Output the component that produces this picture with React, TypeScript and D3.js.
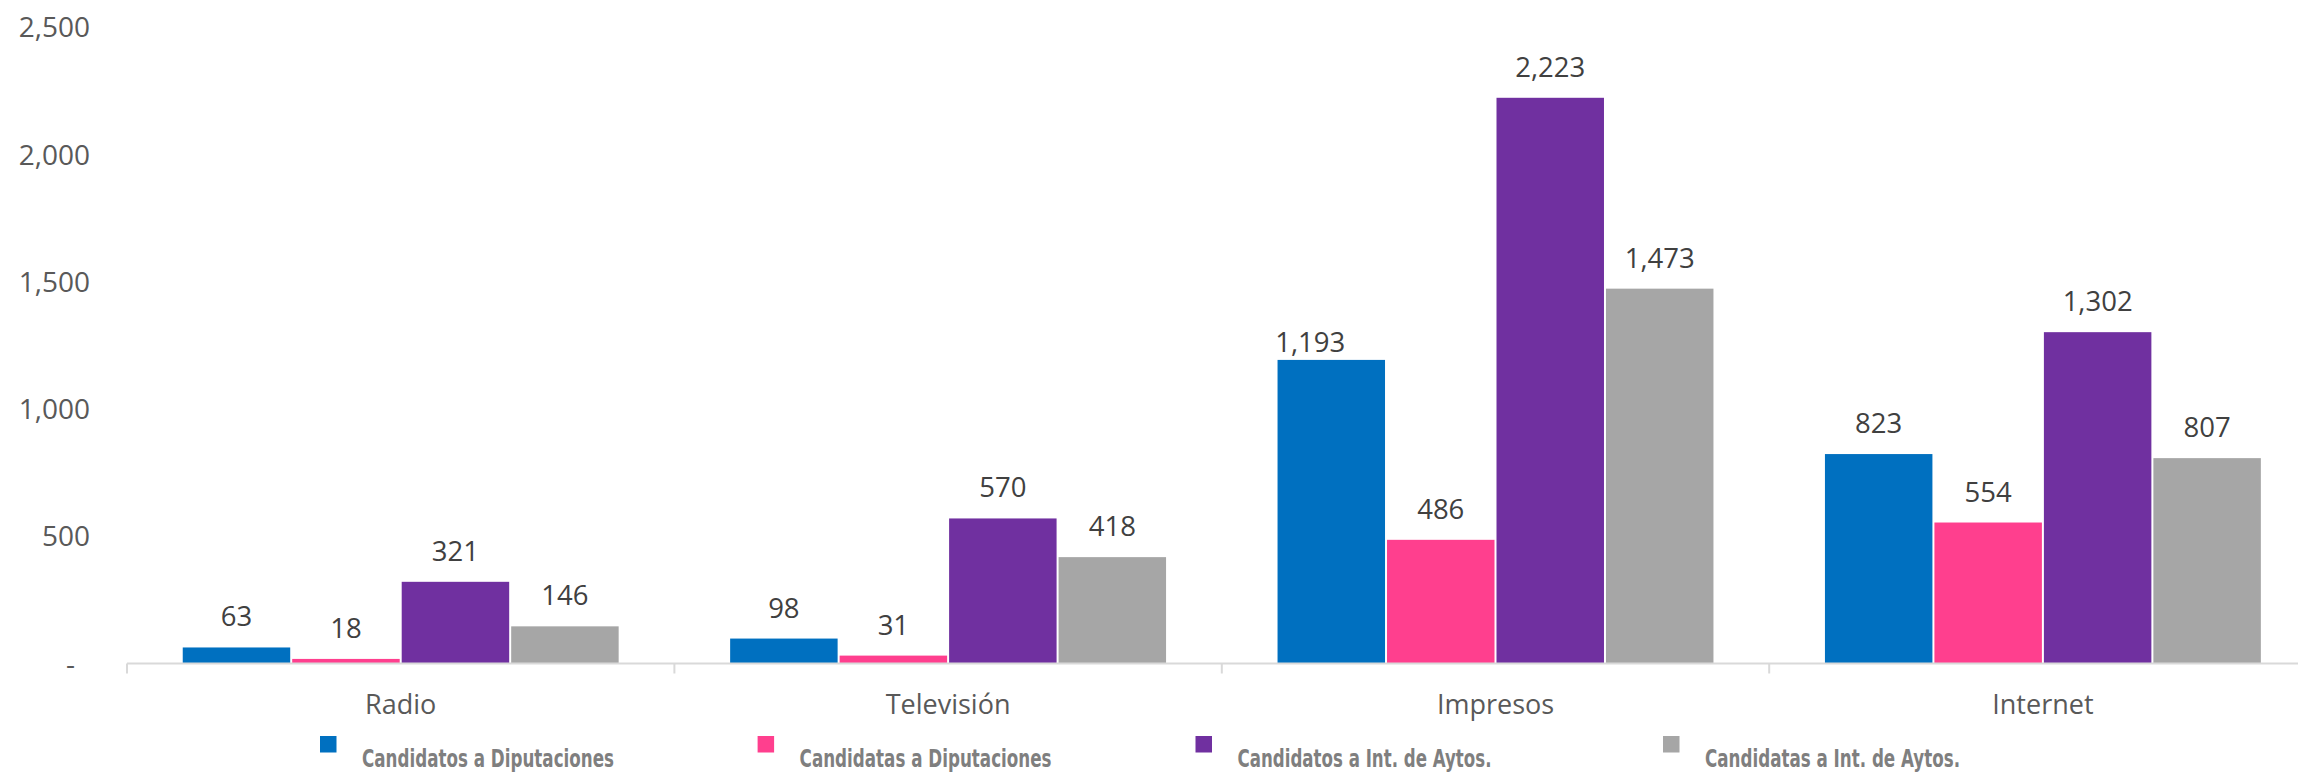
import React from "react";
import * as d3 from "d3";

const categories = ["Radio", "Televisión", "Impresos", "Internet"];
const seriesNames = [
  "Candidatos a Diputaciones",
  "Candidatas a Diputaciones",
  "Candidatos a Int. de Aytos.",
  "Candidatas a Int. de Aytos.",
];
const candidatosDip = [63, 98, 1193, 823];
const candidatasDip = [18, 31, 486, 554];
const candidatosAyt = [321, 570, 2223, 1302];
const candidatasAyt = [146, 418, 1473, 807];
const seriesValues = [candidatosDip, candidatasDip, candidatosAyt, candidatasAyt];
const yTicks = [0, 500, 1000, 1500, 2000, 2500];

const colors = ["#0070C0", "#FF3F8E", "#7030A0", "#A6A6A6"];

// manual label nudges (series index, category index) -> [dx, dy]
const labelNudges: Record<string, [number, number]> = { "0-2": [-21, 13] };

const W = 2298;
const H = 772;
const plotLeft = 127;
const bandW = 547.4;
const baseY = 663.5;
const topY = 27.3;
const legendX = [320, 757.6, 1195.5, 1663];
const legendTextW = [252, 252, 254, 255];

export default function App() {
  const x0 = d3
    .scaleBand<string>()
    .domain(categories)
    .range([plotLeft, plotLeft + bandW * categories.length])
    .paddingInner(0)
    .paddingOuter(0);
  const x1 = d3
    .scaleBand<string>()
    .domain(seriesNames)
    .range([0, x0.bandwidth()])
    .paddingInner(0)
    .paddingOuter(0.5);
  const y = d3.scaleLinear().domain([0, 2500]).range([baseY, topY]);
  const fmt = d3.format(",");
  const bw = x1.bandwidth();
  const boundaries = categories.map((c) => x0(c)!).concat([x0.range()[1]]);

  return (
    <svg
      width={W}
      height={H}
      style={{ position: "absolute", left: 0, top: 0, background: "#fff" }}
      fontFamily="'Open Sans', sans-serif"
    >
      <rect x={0} y={0} width={W} height={H} fill="#fff" />
      {/* y tick labels */}
      {yTicks.map((t) => (
        <text
          key={t}
          x={t === 0 ? 75 : 90}
          y={y(t)}
          dy="0.36em"
          textAnchor="end"
          fontSize={28}
          fill="#595959"
        >
          {t === 0 ? "-" : fmt(t)}
        </text>
      ))}
      {/* bars */}
      {seriesValues.map((vals, si) =>
        vals.map((v, ci) => {
          const bx = x0(categories[ci])! + x1(seriesNames[si])!;
          return (
            <rect
              key={`b${si}-${ci}`}
              x={bx + 1}
              y={y(v)}
              width={bw - 2}
              height={baseY - y(v)}
              fill={colors[si]}
            />
          );
        })
      )}
      {/* axis */}
      <line
        x1={plotLeft}
        x2={W + 20}
        y1={baseY}
        y2={baseY}
        stroke="#D9D9D9"
        strokeWidth={2}
      />
      {boundaries.map((bx, i) => (
        <line
          key={`t${i}`}
          x1={bx}
          x2={bx}
          y1={baseY}
          y2={baseY + 10}
          stroke="#D9D9D9"
          strokeWidth={2}
        />
      ))}
      {/* data labels */}
      {seriesValues.map((vals, si) =>
        vals.map((v, ci) => {
          const bx = x0(categories[ci])! + x1(seriesNames[si])! + bw / 2;
          const n = labelNudges[`${si}-${ci}`] || [0, 0];
          return (
            <text
              key={`l${si}-${ci}`}
              x={bx + n[0]}
              y={y(v) - 21 + n[1]}
              textAnchor="middle"
              fontSize={27.5}
              fill="#404040"
            >
              {fmt(v)}
            </text>
          );
        })
      )}
      {/* category labels */}
      {categories.map((c) => (
        <text
          key={c}
          x={x0(c)! + x0.bandwidth() / 2}
          y={714.3}
          textAnchor="middle"
          fontSize={27}
          fill="#595959"
        >
          {c}
        </text>
      ))}
      {/* legend */}
      {seriesNames.map((s, i) => (
        <g key={s}>
          <rect x={legendX[i]} y={736} width={16.5} height={16.5} fill={colors[i]} />
          <text
            x={legendX[i] + 42}
            y={767}
            fontFamily="'Liberation Sans Narrow', 'DejaVu Sans Condensed', sans-serif"
            fontWeight="bold"
            fontSize={24.5}
            fill="#7F7F7F"
            textLength={legendTextW[i]}
            lengthAdjust="spacingAndGlyphs"
          >
            {s}
          </text>
        </g>
      ))}
    </svg>
  );
}
